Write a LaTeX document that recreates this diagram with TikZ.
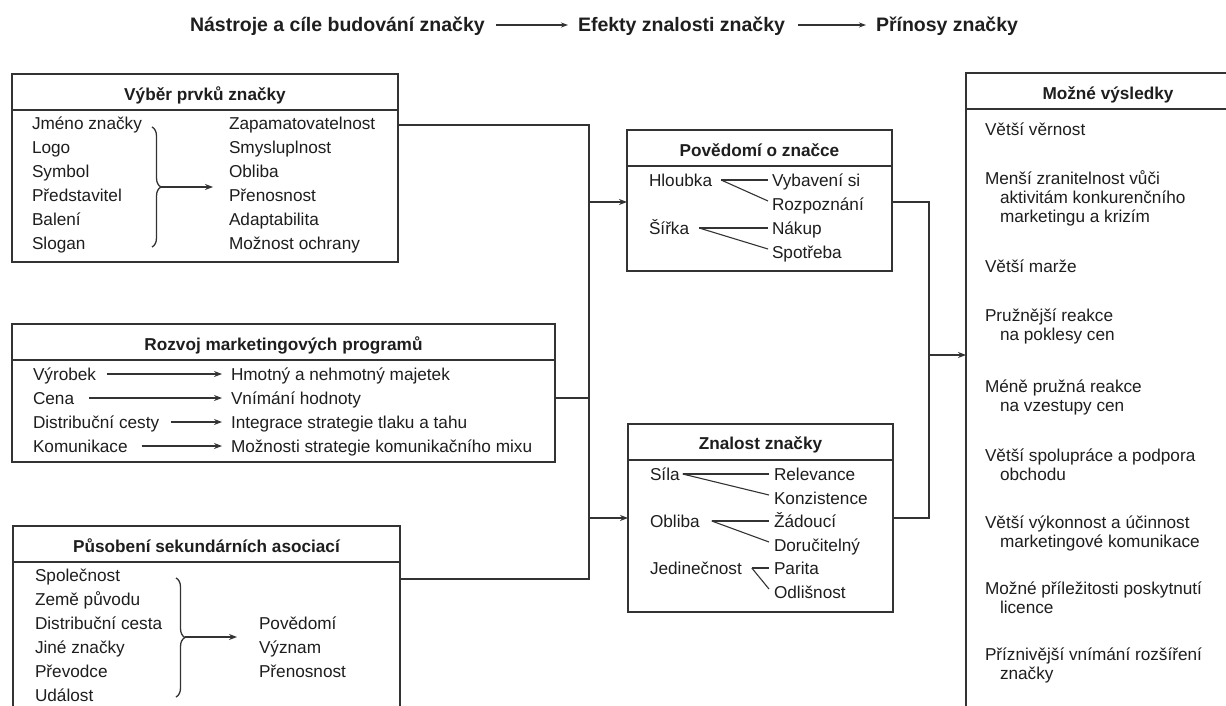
\documentclass[tikz,border=0pt]{standalone}
\usepackage{fontspec}
\setmainfont{Liberation Sans}
\usetikzlibrary{arrows.meta,decorations.pathreplacing,calc}
\definecolor{ink}{HTML}{1E1E1E}
\definecolor{wire}{HTML}{333333}
\newcommand\bodyfs{\fontsize{17.2}{20}\selectfont}
\newcommand\headfs{\fontsize{19.5}{23}\selectfont\bfseries}
\begin{document}
\begin{tikzpicture}[x=1pt,y=-1pt,
  txt/.style={inner sep=0pt, outer sep=0pt, text height=12.4pt, text depth=0pt, anchor=west, font=\bodyfs, text=ink},
  ttl/.style={txt, anchor=center, font=\bodyfs\bfseries},
  hd/.style={txt, font=\headfs, text height=14pt},
  box/.style={draw=wire, line width=1.6pt, inner sep=0pt, outer sep=0pt},
  rule/.style={draw=wire, line width=1.6pt},
  wireline/.style={draw=wire, line width=1.4pt},
  arr/.style={wireline, -{Stealth[length=8pt,width=6pt]}},
  harr/.style={draw=wire, line width=1.1pt, -{Stealth[length=7pt,width=5pt]}},
  brc/.style={draw=wire, line width=1.3pt, decorate, decoration={brace, amplitude=9pt}},
  fine/.style={draw=wire, line width=1.1pt}]

\path[use as bounding box] (0,0) rectangle (1226,706);
\clip (0,0) rectangle (1226,706);
\fill[white] (0,0) rectangle (1226,706);

% ---- heading chain ----
\node[hd] (h1) at (190,25) {Nástroje a cíle budování značky};
\node[hd] (h2) at (578,25) {Efekty znalosti značky};
\node[hd] (h3) at (876,25) {Přínosy značky};
\draw[harr, shorten <=11pt, shorten >=10pt] (h1.east) -- (h2.west);
\draw[harr, shorten <=13pt, shorten >=10pt] (h2.east) -- (h3.west);

% ---- box 1: brand elements ----
\node[box, minimum width=386pt, minimum height=188pt] (b1) at (205,168) {};
\node[ttl] (b1t) at ([yshift=-20pt]b1.north) {Výběr prvků značky};
\draw[rule] ([yshift=-36pt]b1.north west) -- ([yshift=-36pt]b1.north east);
\foreach \t [count=\i] in {Jméno značky,Logo,Symbol,Představitel,Balení,Slogan}
  \node[txt] (b1l\i) at (32,99+24*\i) {\t};
\foreach \t [count=\i] in {Zapamatovatelnost,Smysluplnost,Obliba,Přenosnost,Adaptabilita,Možnost ochrany}
  \node[txt] (b1r\i) at (229,99+24*\i) {\t};
\coordinate (br1a) at (152,127);
\coordinate (br1b) at (152,247);
\coordinate (br1t) at (161,187);
\draw[brc] (br1a) -- (br1b);
\draw[arr, shorten >=16pt] (br1t) -- (br1t -| b1r1.west);

% ---- box 2: marketing programmes ----
\node[box, minimum width=543pt, minimum height=138pt] (b2) at (283.5,393) {};
\node[ttl] (b2t) at ([yshift=-20pt]b2.north) {Rozvoj marketingových programů};
\draw[rule] ([yshift=-36pt]b2.north west) -- ([yshift=-36pt]b2.north east);
\foreach \t [count=\i] in {Výrobek,Cena,Distribuční cesty,Komunikace}
  \node[txt] (b2l\i) at (33,350+24*\i) {\t};
\foreach \t [count=\i] in {Hmotný a nehmotný majetek,Vnímání hodnoty,Integrace strategie tlaku a tahu,Možnosti strategie komunikačního mixu}
  \node[txt] (b2r\i) at (231,350+24*\i) {\t};
\draw[arr, shorten <=11pt, shorten >=9pt] (b2l1.east) -- (b2r1.west);
\draw[arr, shorten <=15pt, shorten >=9pt] (b2l2.east) -- (b2r2.west);
\draw[arr, shorten <=12pt, shorten >=9pt] (b2l3.east) -- (b2r3.west);
\draw[arr, shorten <=14pt, shorten >=9pt] (b2l4.east) -- (b2r4.west);

% ---- box 3: secondary associations ----
\node[box, minimum width=387pt, minimum height=214pt] (b3) at (206.5,633) {};
\node[ttl] (b3t) at ([yshift=-20pt]b3.north) {Působení sekundárních asociací};
\draw[rule] ([yshift=-36pt]b3.north west) -- ([yshift=-36pt]b3.north east);
\foreach \t [count=\i] in {Společnost,Země původu,Distribuční cesta,Jiné značky,Převodce,Událost}
  \node[txt] (b3l\i) at (35,551+24*\i) {\t};
\foreach \t [count=\i] in {Povědomí,Význam,Přenosnost}
  \node[txt] (b3r\i) at (259,599+24*\i) {\t};
\coordinate (br3a) at (176,578);
\coordinate (br3b) at (176,697);
\coordinate (br3t) at (185,637);
\draw[brc] (br3a) -- (br3b);
\draw[arr, shorten >=22pt] (br3t) -- (br3t -| b3r1.west);

% ---- brand awareness ----
\node[box, minimum width=265pt, minimum height=141pt] (pov) at (759.5,200.5) {};
\node[ttl] (povt) at ([yshift=-20pt]pov.north) {Povědomí o značce};
\draw[rule] ([yshift=-36pt]pov.north west) -- ([yshift=-36pt]pov.north east);
\node[txt] (hl)  at (649,180) {Hloubka};
\node[txt] (sir) at (649,228) {Šířka};
\node[txt] (vyb) at (772,180) {Vybavení si};
\node[txt] (roz) at (772,204) {Rozpoznání};
\node[txt] (nak) at (772,228) {Nákup};
\node[txt] (spo) at (772,252) {Spotřeba};
\coordinate (hlS)  at ([xshift=9pt]hl.east);
\coordinate (sirS) at ([xshift=10pt]sir.east);
\draw[fine] (hlS) -- ([xshift=-4pt]vyb.west);
\draw[fine] (hlS) -- ([xshift=-4pt,yshift=3pt]roz.west);
\draw[fine] (sirS) -- ([xshift=-4pt]nak.west);
\draw[fine] (sirS) -- ([xshift=-4pt,yshift=3pt]spo.west);

% ---- brand image ----
\node[box, minimum width=265pt, minimum height=188pt] (zna) at (760.5,518) {};
\node[ttl] (znat) at ([yshift=-19pt]zna.north) {Znalost značky};
\draw[rule] ([yshift=-36pt]zna.north west) -- ([yshift=-36pt]zna.north east);
\node[txt] (sil) at (650,474) {Síla};
\node[txt] (obl) at (650,521) {Obliba};
\node[txt] (jed) at (650,568) {Jedinečnost};
\node[txt] (rel) at (774,474) {Relevance};
\node[txt] (kon) at (774,498) {Konzistence};
\node[txt] (zad) at (774,521) {Žádoucí};
\node[txt] (dor) at (774,545) {Doručitelný};
\node[txt] (par) at (774,568) {Parita};
\node[txt] (odl) at (774,592) {Odlišnost};
\coordinate (silS) at ([xshift=3pt]sil.east);
\coordinate (oblS) at ([xshift=12pt]obl.east);
\coordinate (jedS) at ([xshift=10pt]jed.east);
\draw[fine] (silS) -- ([xshift=-5pt]rel.west);
\draw[fine] (silS) -- ([xshift=-5pt,yshift=3pt]kon.west);
\draw[fine] (oblS) -- ([xshift=-5pt]zad.west);
\draw[fine] (oblS) -- ([xshift=-5pt,yshift=3pt]dor.west);
\draw[fine] (jedS) -- ([xshift=-5pt]par.west);
\draw[fine] (jedS) -- ([xshift=-5pt,yshift=3pt]odl.west);

% ---- possible outcomes ----
\node[box, minimum width=284pt, minimum height=667pt] (res) at (1108,406.5) {};
\node[ttl] (rest) at ([yshift=-20pt]res.north) {Možné výsledky};
\draw[rule] ([yshift=-36pt]res.north west) -- ([yshift=-36pt]res.north east);
\node[txt] (o1)  at (985,129) {Větší věrnost};
\node[txt] (o2)  at (985,178) {Menší zranitelnost vůči};
\node[txt] (o2b) at (1000,197) {aktivitám konkurenčního};
\node[txt] (o2c) at (1000,216) {marketingu a krizím};
\node[txt] (o3)  at (985,266) {Větší marže};
\node[txt] (o4)  at (985,315) {Pružnější reakce};
\node[txt] (o4b) at (1000,334) {na poklesy cen};
\node[txt] (o5)  at (985,386) {Méně pružná reakce};
\node[txt] (o5b) at (1000,405) {na vzestupy cen};
\node[txt] (o6)  at (985,455) {Větší spolupráce a podpora};
\node[txt] (o6b) at (1000,474) {obchodu};
\node[txt] (o7)  at (985,522) {Větší výkonnost a účinnost};
\node[txt] (o7b) at (1000,541) {marketingové komunikace};
\node[txt] (o8)  at (985,588) {Možné příležitosti poskytnutí};
\node[txt] (o8b) at (1000,607) {licence};
\node[txt] (o9)  at (985,654) {Příznivější vnímání rozšíření};
\node[txt] (o9b) at (1000,673) {značky};

% ---- connectors: tools -> effects ----
\coordinate (jT) at (589,125);
\coordinate (jM) at (589,398);
\coordinate (jB) at (589,579);
\coordinate (jP) at (589,202);
\coordinate (jZ) at (589,518);
\draw[wireline] (b1.east |- jT) -- (jT) -- (jB) -- (b3.east |- jB);
\draw[wireline] (b2.east |- jM) -- (jM);
\draw[arr] (jP) -- (jP -| pov.west);
\draw[arr] (jZ) -- (jZ -| zna.west);

% ---- connectors: effects -> outcomes ----
\coordinate (kT) at (929,202);
\coordinate (kB) at (929,518);
\coordinate (kR) at (929,355);
\draw[wireline] (pov.east |- kT) -- (kT) -- (kB) -- (zna.east |- kB);
\draw[arr] (kR) -- (kR -| res.west);
\end{tikzpicture}
\end{document}
